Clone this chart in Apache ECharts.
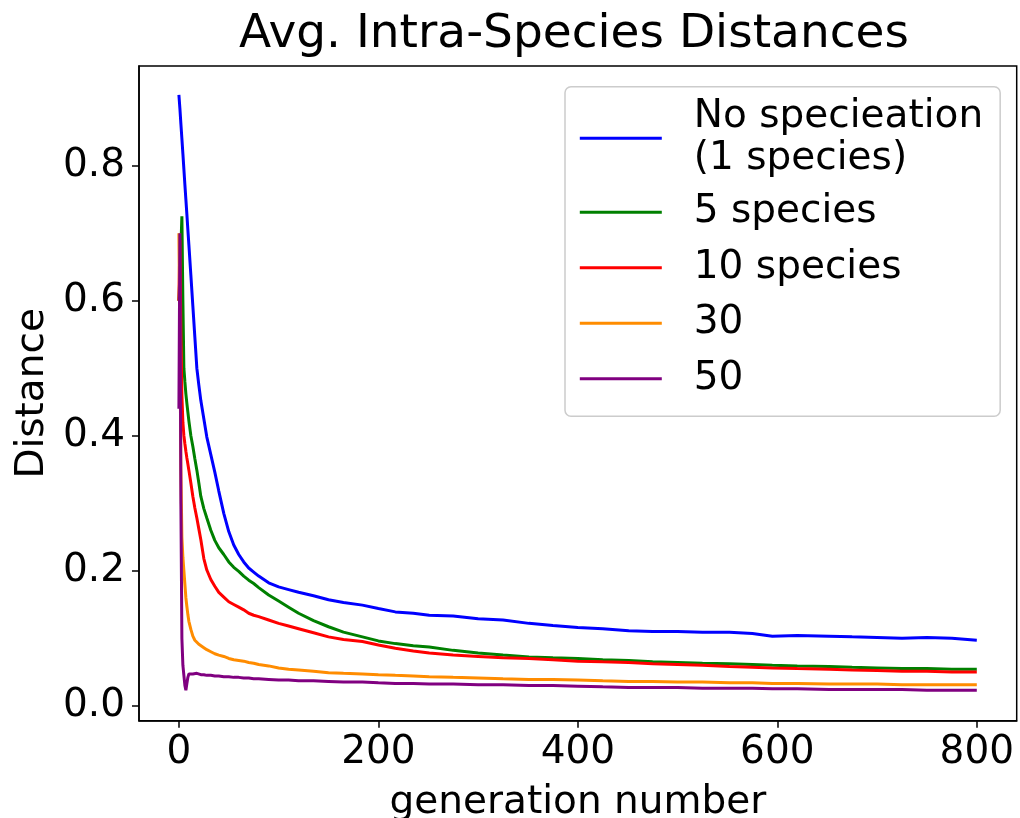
<!DOCTYPE html>
<html><head><meta charset="utf-8">
<script src="https://cdn.jsdelivr.net/npm/echarts@6/dist/echarts.min.js"></script>
<style>html,body{margin:0;padding:0;background:#fff}#c{width:1020px;height:818px}</style>
</head><body><div id="c"></div>
<script>
const generations = [0,1,2,3,4,5,6,7,8,9,10,12,14,16,18,20,22,25,28,32,36,40,45,50,55,60,65,70,75,80,90,100,110,120,135,150,165,184,200,217,235,251,275,300,325,351,375,400,425,451,475,500,525,552,575,595,620,652,675,700,725,750,775,800];

const noSpeciation = [0.905,0.885,0.862,0.84,0.818,0.795,0.772,0.75,0.728,0.705,0.683,0.638,0.592,0.546,0.50,0.475,0.452,0.425,0.398,0.372,0.346,0.318,0.285,0.258,0.238,0.224,0.213,0.204,0.198,0.192,0.182,0.176,0.172,0.168,0.163,0.157,0.153,0.149,0.144,0.139,0.137,0.134,0.133,0.129,0.127,0.122,0.119,0.116,0.114,0.111,0.110,0.110,0.109,0.109,0.107,0.103,0.104,0.103,0.102,0.101,0.100,0.101,0.100,0.097];

const species5 = [0.60,0.64,0.68,0.725,0.60,0.50,0.48,0.462,0.448,0.435,0.422,0.40,0.384,0.366,0.349,0.33,0.31,0.292,0.278,0.26,0.245,0.234,0.224,0.213,0.205,0.199,0.192,0.186,0.181,0.175,0.164,0.155,0.146,0.137,0.126,0.117,0.109,0.102,0.096,0.092,0.089,0.087,0.082,0.078,0.075,0.072,0.071,0.070,0.068,0.067,0.065,0.064,0.063,0.062,0.061,0.060,0.059,0.058,0.057,0.056,0.055,0.055,0.054,0.054];

const species10 = [0.60,0.69,0.55,0.46,0.42,0.40,0.388,0.377,0.367,0.358,0.349,0.33,0.31,0.293,0.278,0.262,0.246,0.218,0.201,0.187,0.177,0.168,0.161,0.154,0.150,0.146,0.142,0.137,0.134,0.132,0.127,0.122,0.118,0.114,0.108,0.102,0.098,0.095,0.090,0.085,0.081,0.078,0.075,0.073,0.071,0.070,0.068,0.066,0.065,0.064,0.062,0.061,0.060,0.058,0.057,0.056,0.055,0.054,0.053,0.052,0.051,0.051,0.050,0.050];

const species30 = [0.70,0.55,0.35,0.25,0.22,0.20,0.18,0.16,0.147,0.135,0.125,0.113,0.103,0.097,0.094,0.091,0.089,0.086,0.083,0.080,0.077,0.075,0.073,0.070,0.068,0.067,0.066,0.064,0.063,0.061,0.059,0.056,0.054,0.053,0.051,0.049,0.048,0.047,0.046,0.045,0.044,0.043,0.042,0.041,0.040,0.039,0.039,0.038,0.037,0.036,0.036,0.035,0.035,0.034,0.034,0.033,0.033,0.032,0.032,0.032,0.031,0.031,0.031,0.031];

const species50 = [0.44,0.70,0.30,0.10,0.06,0.045,0.03,0.023,0.033,0.042,0.047,0.046,0.047,0.047,0.048,0.047,0.046,0.046,0.045,0.045,0.044,0.044,0.043,0.043,0.042,0.042,0.041,0.041,0.040,0.040,0.039,0.038,0.038,0.037,0.037,0.036,0.035,0.035,0.034,0.033,0.033,0.032,0.032,0.031,0.031,0.030,0.030,0.029,0.028,0.027,0.027,0.027,0.026,0.026,0.026,0.025,0.025,0.024,0.024,0.024,0.024,0.023,0.023,0.023];

const seriesNames = ['No specieation\n(1 species)','5 species','10 species','30','50'];
const seriesColors = ['#0000ff','#008000','#ff0000','#ff8c00','#800080'];
const seriesValues = [noSpeciation, species5, species10, species30, species50];
const xTicks = [0,200,400,600,800];
const yTicks = [0,0.2,0.4,0.6,0.8];

const FONT = 'DejaVu Sans';
const chart = echarts.init(document.getElementById('c'), null, {renderer:'canvas'});

const series = seriesValues.map((vals, i) => ({
  name: seriesNames[i],
  type: 'line',
  symbol: 'none',
  showSymbol: false,
  data: generations.map((g, j) => [g, vals[j]]),
  lineStyle: {color: seriesColors[i], width: 3},
  itemStyle: {color: seriesColors[i]},
  emphasis: {disabled: true},
  z: 2 + i
}));

const axisCommon = {
  type: 'value',
  axisLine: {show: true, onZero: false, lineStyle: {color: '#000', width: 1.5}},
  splitLine: {show: false},
  nameTextStyle: {fontFamily: FONT, fontSize: 39, color: '#000'},
  nameLocation: 'middle'
};

chart.setOption({
  animation: false,
  backgroundColor: '#fff',
  title: {
    text: 'Avg. Intra-Species Distances',
    left: 234, top: 6,
    textStyle: {fontFamily: FONT, fontSize: 47, fontWeight: 'normal', color: '#000'}
  },
  grid: {
    left: 139, right: 3.3, top: 66, bottom: 97.3,
    show: true, borderColor: '#000', borderWidth: 1.5,
    outerBoundsMode: 'none', containLabel: false
  },
  xAxis: Object.assign({}, axisCommon, {
    min: -40, max: 840,
    name: 'generation number', nameGap: 63,
    axisTick: {show: true, customValues: xTicks, length: 7, lineStyle: {color: '#000', width: 1.5}},
    axisLabel: {customValues: xTicks, fontFamily: FONT, fontSize: 39, color: '#000', margin: 13,
      formatter: v => String(v)}
  }),
  yAxis: Object.assign({}, axisCommon, {
    min: -0.0222, max: 0.9477,
    name: 'Distance', nameGap: 87, nameRotate: 90,
    axisTick: {show: true, customValues: yTicks, length: 7, lineStyle: {color: '#000', width: 1.5}},
    axisLabel: {customValues: yTicks, fontFamily: FONT, fontSize: 39, color: '#000', margin: 14,
      formatter: v => v.toFixed(1)}
  }),
  legend: {
    orient: 'vertical',
    left: 565, top: 86.7,
    padding: [9.6, 17, 14, 13.3],
    itemWidth: 82, itemHeight: 47, itemGap: 8.5,
    backgroundColor: 'rgba(255,255,255,0.8)',
    borderColor: '#cccccc', borderWidth: 1.5, borderRadius: 6,
    selectedMode: false,
    itemStyle: {opacity: 0, borderWidth: 0},
    lineStyle: {width: 3},
    textStyle: {fontFamily: FONT, fontSize: 39, color: '#000', lineHeight: 47, padding: [0,0,0,27]},
    data: seriesNames.map((n, i) => i === 0
      ? {name: n, textStyle: {lineHeight: 42}}
      : {name: n})
  },
  series: series
});
</script>
</body></html>
